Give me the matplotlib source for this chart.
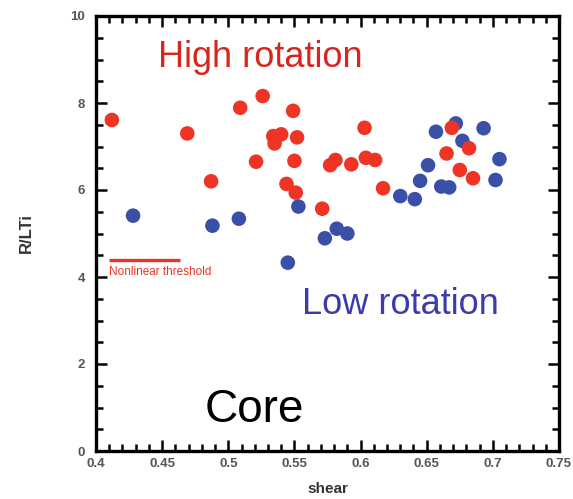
import matplotlib
matplotlib.use("Agg")
import matplotlib.pyplot as plt
from matplotlib.ticker import MultipleLocator

plt.rcParams["font.family"] = ["Liberation Sans", "DejaVu Sans"]

# Low-rotation discharges (shear, R/LTi)
low_shear = [0.428, 0.488, 0.508, 0.545, 0.553, 0.573, 0.582, 0.590,
             0.630, 0.641, 0.645, 0.651, 0.657, 0.672, 0.677, 0.693,
             0.661, 0.667, 0.705, 0.702]
low_rlti = [5.41, 5.18, 5.34, 4.33, 5.62, 4.89, 5.11, 5.00,
            5.86, 5.79, 6.21, 6.57, 7.34, 7.53, 7.13, 7.42,
            6.08, 6.06, 6.71, 6.23]

# High-rotation discharges (shear, R/LTi)
high_shear = [0.412, 0.469, 0.487, 0.509, 0.526, 0.534, 0.540, 0.535,
              0.549, 0.552, 0.521, 0.550, 0.544, 0.551, 0.571, 0.577,
              0.581, 0.593, 0.603, 0.604, 0.611, 0.617, 0.669, 0.665,
              0.682, 0.675, 0.685]
high_rlti = [7.61, 7.30, 6.20, 7.89, 8.16, 7.24, 7.28, 7.07,
             7.82, 7.21, 6.65, 6.67, 6.14, 5.94, 5.57, 6.57,
             6.69, 6.59, 7.43, 6.74, 6.69, 6.04, 7.43, 6.84,
             6.96, 6.46, 6.27]

# Threshold marker segment
threshold_shear = [0.4098, 0.4634]
threshold_rlti = [4.39, 4.39]

x_ticks = [0.40, 0.45, 0.50, 0.55, 0.60, 0.65, 0.70, 0.75]
x_tick_labels = ["0.4", "0.45", "0.5", "0.55", "0.6", "0.65", "0.7", "0.75"]
y_ticks = [0, 2, 4, 6, 8, 10]
y_tick_labels = ["0", "2", "4", "6", "8", "10"]

RED = "#EE3424"
BLUE = "#3A50A8"

fig = plt.figure(figsize=(5.73, 4.99), dpi=100)
ax = fig.add_axes([96 / 573, 48 / 499, 463 / 573, 435 / 499])

ax.scatter(low_shear, low_rlti, s=110, color=BLUE, edgecolors="none", zorder=3)
ax.scatter(high_shear, high_rlti, s=110, color=RED, edgecolors="none", zorder=4)

ax.plot(threshold_shear, threshold_rlti, color=RED, lw=2.4, solid_capstyle="butt")
ax.text(threshold_shear[0], 4.12, "Nonlinear threshold", color=RED,
        fontsize=8.5, ha="left", va="center")

ax.text(0.524, 9.05, "High rotation", color="#D7261E", fontsize=26,
        ha="center", va="center")
ax.text(0.630, 3.36, "Low rotation", color="#3C3CA8", fontsize=26,
        ha="center", va="center")
ax.text(0.520, 0.95, "Core", color="black", fontsize=33,
        ha="center", va="center")

ax.set_xlim(0.4, 0.75)
ax.set_ylim(0, 10)
ax.set_xticks(x_ticks)
ax.set_xticklabels(x_tick_labels)
ax.set_yticks(y_ticks)
ax.set_yticklabels(y_tick_labels)
ax.xaxis.set_minor_locator(MultipleLocator(0.01))
ax.yaxis.set_minor_locator(MultipleLocator(0.5))

ax.tick_params(which="both", direction="in", top=True, right=True,
               width=1.8, color="black")
ax.tick_params(which="major", length=8)
ax.tick_params(which="minor", length=5.2)
ax.tick_params(axis="x", which="major", pad=5, labelsize=9.5,
               labelcolor="#555555")
ax.tick_params(axis="y", which="major", pad=8, labelsize=9.5,
               labelcolor="#555555")
for lbl in ax.get_xticklabels() + ax.get_yticklabels():
    lbl.set_fontweight("bold")

for sp in ax.spines.values():
    sp.set_linewidth(2.4)

ax.set_xlabel("shear", fontsize=11, fontweight="bold", color="#333333",
              labelpad=9)
ax.set_ylabel("R/LTi", fontsize=12, fontweight="bold", color="#333333",
              labelpad=26)

fig.savefig("out.png", dpi=100)
